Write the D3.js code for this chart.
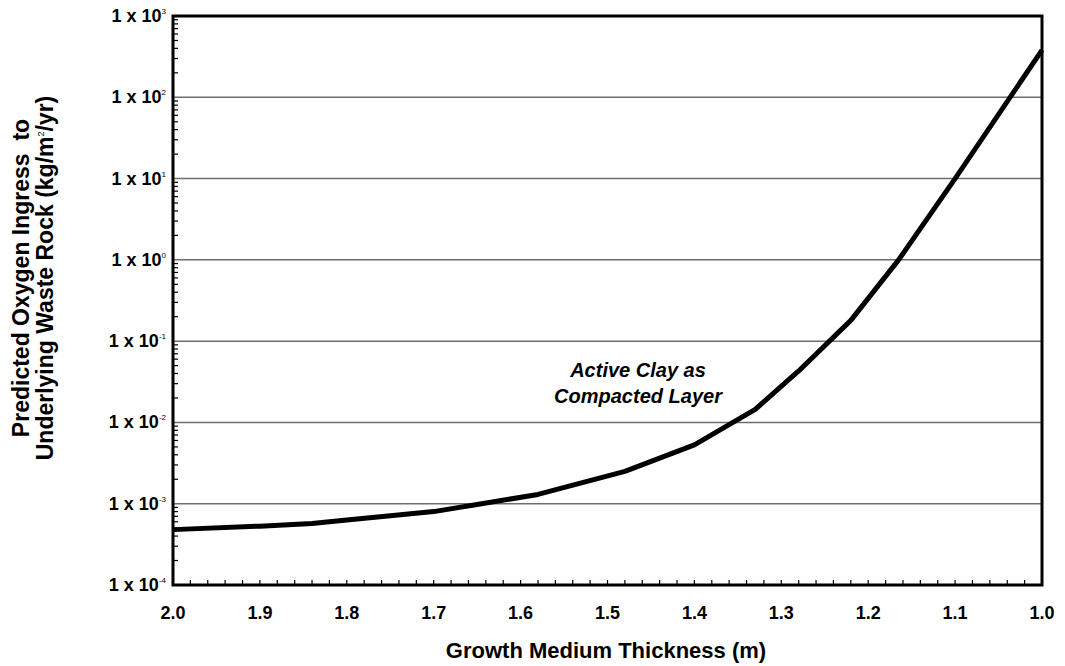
<!DOCTYPE html>
<html lang="en">
<head>
<meta charset="UTF-8">
<script src="https://d3js.org/d3.v7.min.js"></script>
<style>
    body { margin: 0; background: #fff; }
    text { font-family: Arial, "Liberation Sans", sans-serif; font-weight: bold; fill: #000; }
    .grid { stroke: #6e6e6e; stroke-width: 1.5px; }
</style>
</head>
<body>
<script>
    // growth medium thickness (m) and predicted oxygen ingress (kg/m2/yr)
    const thickness = [2.0, 1.9, 1.84, 1.8, 1.7, 1.65, 1.58, 1.48, 1.40, 1.33, 1.28, 1.22, 1.165, 1.1, 1.0];
    const ingress = [4.8e-4, 5.3e-4, 5.7e-4, 6.3e-4, 8.0e-4, 9.8e-4, 1.3e-3, 2.5e-3, 5.3e-3, 1.45e-2, 4.3e-2, 0.18, 1.0, 10, 380];
    const xTicks = [2.0, 1.9, 1.8, 1.7, 1.6, 1.5, 1.4, 1.3, 1.2, 1.1, 1.0];
    const yExponents = [3, 2, 1, 0, -1, -2, -3, -4];
    const note = ["Active Clay as", "Compacted Layer"];

    const width = 1065, height = 666;
    const margin = {left: 173, right: 23, top: 16, bottom: 81};

    const svg = d3.select('body').append('svg')
        .attr('width', width)
        .attr('height', height);

    const x = d3.scaleLinear().domain([2.0, 1.0]).range([margin.left, width - margin.right]);
    const y = d3.scaleLog().domain([1e-4, 1e3]).range([height - margin.bottom, margin.top]);

    // horizontal grid at each decade
    svg.selectAll('.grid')
        .data(yExponents.slice(1, -1))
        .enter().append('line')
        .attr('class', 'grid')
        .attr('x1', x(2.0)).attr('x2', x(1.0))
        .attr('y1', d => y(Math.pow(10, d))).attr('y2', d => y(Math.pow(10, d)));

    // minor ticks on y (2..9 in each decade), pointing inside
    const yMinor = [];
    for (let e = -4; e < 3; e++) for (let k = 2; k <= 9; k++) yMinor.push(k * Math.pow(10, e));
    svg.append('g').selectAll('line')
        .data(yMinor)
        .enter().append('line')
        .attr('x1', x(2.0)).attr('x2', x(2.0) + 5)
        .attr('y1', d => y(d)).attr('y2', d => y(d))
        .attr('stroke', '#000').attr('stroke-width', 1.2);

    // x ticks every 0.02, pointing up
    const xMinor = d3.range(0, 51).map(i => 2.0 - i * 0.02);
    svg.append('g').selectAll('line')
        .data(xMinor)
        .enter().append('line')
        .attr('x1', d => x(d)).attr('x2', d => x(d))
        .attr('y1', y(1e-4)).attr('y2', y(1e-4) - 5)
        .attr('stroke', '#000').attr('stroke-width', 1.2);

    // plot frame
    svg.append('rect')
        .attr('x', x(2.0)).attr('y', y(1e3))
        .attr('width', x(1.0) - x(2.0)).attr('height', y(1e-4) - y(1e3))
        .attr('fill', 'none').attr('stroke', '#000').attr('stroke-width', 3);

    // x tick labels
    svg.append('g').selectAll('text')
        .data(xTicks)
        .enter().append('text')
        .attr('x', d => x(d)).attr('y', 619)
        .attr('text-anchor', 'middle')
        .style('font-size', '18px')
        .text(d => d.toFixed(1));

    // y tick labels 1 x 10^n
    const yl = svg.append('g').selectAll('text')
        .data(yExponents)
        .enter().append('text')
        .attr('x', 166).attr('y', d => y(Math.pow(10, d)) + 6)
        .attr('text-anchor', 'end')
        .style('font-size', '18px');
    yl.append('tspan').text('1 x 10');
    yl.append('tspan').attr('dy', -8).style('font-size', '8px').style('font-weight', 'normal').text(d => d);

    // data line
    const line = d3.line()
        .x((d, i) => x(thickness[i]))
        .y(d => y(d));
    svg.append('path')
        .datum(ingress)
        .attr('d', line)
        .attr('fill', 'none')
        .attr('stroke', '#000')
        .attr('stroke-width', 5)
        .attr('stroke-linejoin', 'round');

    // annotation
    svg.append('g').selectAll('text')
        .data(note)
        .enter().append('text')
        .attr('x', 638).attr('y', (d, i) => 377 + i * 26)
        .attr('text-anchor', 'middle')
        .style('font-size', '20px')
        .style('font-style', 'italic')
        .text(d => d);

    // axis titles
    svg.append('text')
        .attr('x', 606).attr('y', 658)
        .attr('text-anchor', 'middle')
        .style('font-size', '22px')
        .text('Growth Medium Thickness (m)');

    const yt = svg.append('text')
        .attr('transform', 'translate(29,278) rotate(-90)')
        .attr('text-anchor', 'middle')
        .style('white-space', 'pre')
        .style('font-size', '23px');
    yt.append('tspan').attr('x', 0).attr('dy', 0).text('Predicted Oxygen Ingress  to');
    const l2 = yt.append('tspan').attr('x', 0).attr('dy', 24);
    l2.append('tspan').text('Underlying Waste Rock (kg/m');
    l2.append('tspan').attr('dy', -9).style('font-size', '9px').style('font-weight', 'normal').text('2');
    l2.append('tspan').attr('dy', 9).text('/yr)');
</script>
</body>
</html>
